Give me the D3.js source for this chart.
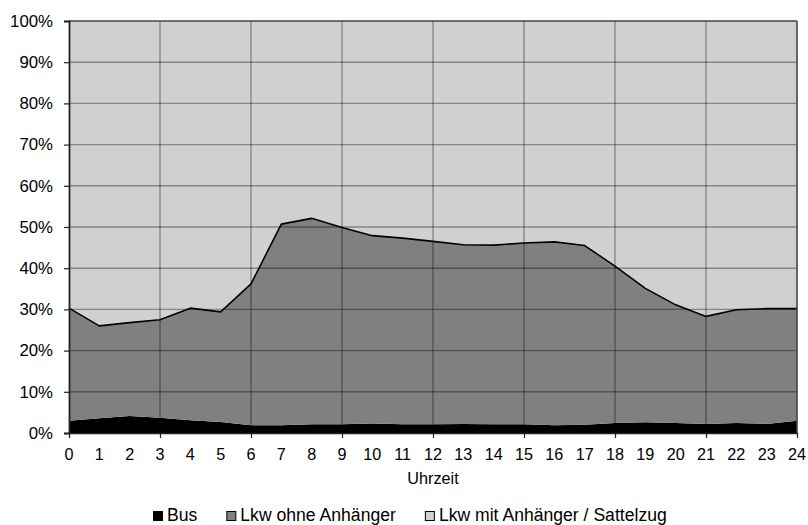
<!DOCTYPE html>
<html><head><meta charset="utf-8">
<script src="https://cdn.jsdelivr.net/npm/d3@7/dist/d3.min.js"></script>
<style>body{margin:0;background:#fff}svg{display:block}text{font-family:"Liberation Sans",Arial,sans-serif;fill:#000}</style>
</head><body><svg id="c" width="808" height="525"></svg>
<script>
const hours = d3.range(0, 25);
const hourLabels = hours.map(String);
const seriesNames = ["Bus", "Lkw ohne Anhänger", "Lkw mit Anhänger / Sattelzug"];
const bus = [3.0,3.6,4.1,3.7,3.1,2.7,1.9,1.9,2.1,2.1,2.3,2.1,2.1,2.2,2.1,2.1,1.9,2.0,2.4,2.6,2.4,2.2,2.4,2.2,3.0];
const busPlusLkwOhne = [30.3,26.0,26.8,27.5,30.3,29.4,36.2,50.7,52.1,49.9,47.9,47.3,46.5,45.7,45.6,46.1,46.4,45.5,40.5,35.1,31.1,28.3,29.9,30.2,30.2];
const lkwOhne = busPlusLkwOhne.map((v,i)=>+(v-bus[i]).toFixed(1));
const lkwMit = busPlusLkwOhne.map(v=>+(100-v).toFixed(1));
const yTicks = d3.range(0, 101, 10);
const colors = ["#000000", "#808080", "#d0d0d0"];

const svg = d3.select("#c");
const L = 69, R = 797, T = 21, B = 433;
const x = d3.scaleLinear().domain([0,24]).range([L,R]);
const y = d3.scaleLinear().domain([0,100]).range([B,T]);

const rows = hours.map((h,i)=>({h, a:bus[i], b:lkwOhne[i], c:lkwMit[i]}));
const stack = d3.stack().keys(["a","b","c"])(rows);
const area = d3.area().x(d=>x(d.data.h)).y0(d=>y(d[0])).y1(d=>y(d[1]));
svg.selectAll("path.area").data(stack).join("path").attr("class","area")
  .attr("d", area).attr("fill",(d,i)=>colors[i]);

// grid lines over areas
const g = svg.append("g");
yTicks.filter(v=>v>0&&v<100).forEach(v=>{
  g.append("line").attr("x1",L).attr("x2",R).attr("y1",y(v)).attr("y2",y(v))
   .attr("stroke","rgba(0,0,0,0.36)").attr("stroke-width",1.4);
});
d3.range(3,24,3).forEach(h=>{
  g.append("line").attr("x1",x(h)).attr("x2",x(h)).attr("y1",T).attr("y2",B)
   .attr("stroke","rgba(0,0,0,0.36)").attr("stroke-width",1.4);
});

// top line of Lkw ohne
const line = d3.line().x((d,i)=>x(hours[i])).y(d=>y(d));
svg.append("path").attr("d", line(busPlusLkwOhne)).attr("fill","none").attr("stroke","#000").attr("stroke-width",1.6).attr("stroke-linejoin","round");

// border
svg.append("line").attr("x1",L).attr("x2",R).attr("y1",T).attr("y2",T).attr("stroke","#444").attr("stroke-width",1.6);
svg.append("line").attr("x1",R).attr("x2",R).attr("y1",T).attr("y2",B).attr("stroke","#444").attr("stroke-width",1.6);

// y axis
const yAxis = svg.append("g").attr("transform",`translate(${L},0)`)
  .call(d3.axisLeft(y).tickValues(yTicks).tickFormat(d=>d+"%").tickSize(5).tickPadding(11));
yAxis.select(".domain").attr("stroke","#222").attr("stroke-width",1.8);
yAxis.selectAll(".tick line").attr("stroke","#222").attr("stroke-width",1.2);
yAxis.selectAll("text").attr("font-size",16.8).attr("font-family",null);

// x axis
const xAxis = svg.append("g").attr("transform",`translate(0,${B})`)
  .call(d3.axisBottom(x).tickValues(d3.range(0,25,3)).tickFormat("").tickSize(5).tickSizeOuter(0));
xAxis.select(".domain").attr("stroke","#222").attr("stroke-width",1.4);
xAxis.selectAll(".tick line").attr("stroke","#222").attr("stroke-width",1.2);
svg.append("g").selectAll("text").data(hours).join("text")
  .attr("x",d=>x(d)).attr("y",460).attr("text-anchor","middle").attr("font-size",16.2)
  .text((d,i)=>hourLabels[i]);
svg.append("text").attr("x",(L+R)/2).attr("y",484).attr("text-anchor","middle").attr("font-size",16.2).text("Uhrzeit");

// legend
const leg = svg.append("g");
let lx = 153;
seriesNames.forEach((n,i)=>{
  leg.append("rect").attr("x",lx+0.5).attr("y",511.5).attr("width",9).attr("height",9)
    .attr("fill",colors[i]).attr("stroke","#000").attr("stroke-width",1);
  const t = leg.append("text").attr("x",lx+14).attr("y",520.5).attr("font-size",17.6).text(n);
  lx += 14 + t.node().getComputedTextLength() + 29;
});
</script></body></html>
